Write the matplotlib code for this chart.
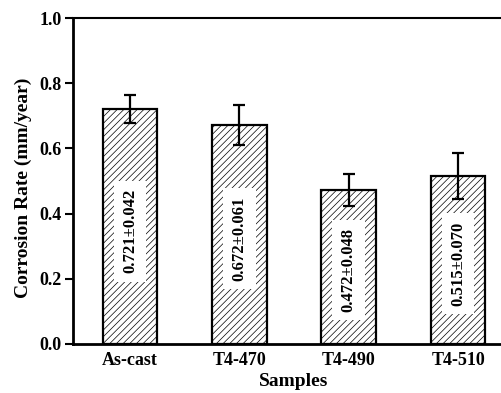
import matplotlib
matplotlib.use("Agg")
import matplotlib.pyplot as plt
import numpy as np

# data
samples = ["As-cast", "T4-470", "T4-490", "T4-510"]
rate = [0.721, 0.672, 0.472, 0.515]
err = [0.042, 0.061, 0.048, 0.070]

plt.rcParams["font.family"] = ["Liberation Serif", "DejaVu Serif"]
plt.rcParams["font.weight"] = "bold"
plt.rcParams["hatch.color"] = "#707070"
plt.rcParams["hatch.linewidth"] = 0.5

fig = plt.figure(figsize=(5.02, 3.93), dpi=100)
# axes runs past the right edge like the cropped original
ax = fig.add_axes([73 / 502, 49 / 393, 442 / 502, 326 / 393])

x = np.arange(len(samples))
ax.bar(x, rate, width=0.5, color="white", edgecolor="black", linewidth=1.6,
       hatch="/////", zorder=2)
ax.errorbar(x, rate, yerr=err, fmt="none", ecolor="black", elinewidth=1.6,
            capsize=4, capthick=1.6, zorder=3)

for xi, v, e in zip(x, rate, err):
    ax.text(xi, v * 0.48, f"{v:.3f}\u00b1{e:.3f}", rotation=90, ha="center",
            va="center", fontsize=12, fontweight="bold", zorder=4,
            bbox=dict(boxstyle="square,pad=0.5", facecolor="white", edgecolor="none"))

ax.set_xlim(-0.52, 3.52)
ax.set_ylim(0, 1.0)
ax.set_yticks([0.0, 0.2, 0.4, 0.6, 0.8, 1.0])
ax.set_xticks(x)
ax.set_xticklabels(samples, fontsize=13, fontweight="bold")
ax.tick_params(axis="x", length=0, pad=6)
ax.tick_params(axis="y", direction="out", length=6, width=1.5, labelsize=13, pad=2)
for lbl in ax.get_yticklabels():
    lbl.set_fontweight("bold")

ax.set_xlabel("Samples", fontsize=14, fontweight="bold", labelpad=3)
ax.set_ylabel("Corrosion Rate (mm/year)", fontsize=14, fontweight="bold")
ax.yaxis.set_label_coords(-0.092, 0.48)

ax.spines["left"].set_linewidth(2)
ax.spines["bottom"].set_linewidth(2)
ax.spines["top"].set_linewidth(1.5)
ax.spines["right"].set_visible(False)

fig.savefig("out.png", dpi=100)
